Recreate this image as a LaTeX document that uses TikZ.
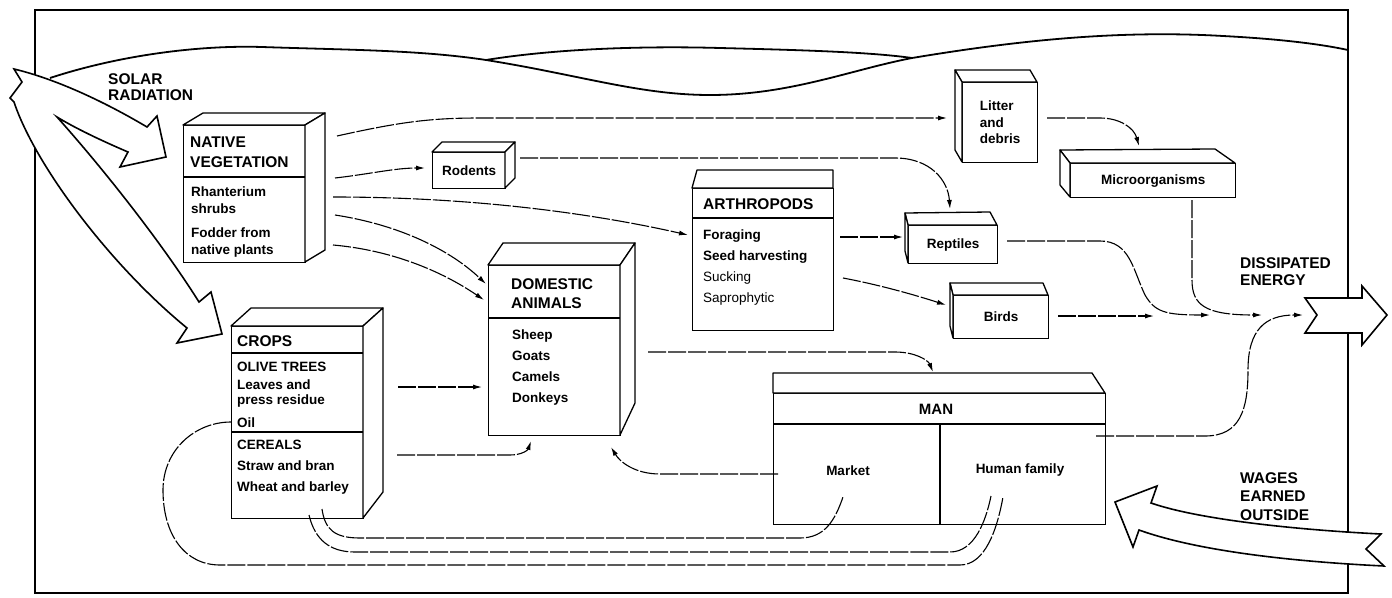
\documentclass[tikz,border=0pt]{standalone}
\usepackage{fontspec}
\setmainfont{Liberation Sans}
\usetikzlibrary{arrows.meta}
\begin{document}
\begin{tikzpicture}[x=1pt,y=-1pt,
  frame/.style={line width=1.8pt},
  boxn/.style={draw,line width=1.3pt,inner sep=0pt,anchor=north west,fill=white},
  face/.style={draw,line width=1.3pt,line join=round,fill=white},
  sep/.style={line width=1.1pt},
  conn/.style={line width=1.1pt,dash pattern=on 18pt off 2pt,-{Latex[length=9pt,width=5pt]}},
  link/.style={line width=1.1pt,dash pattern=on 18pt off 2pt},
  head/.style={font=\fontsize{15.5}{19.5}\selectfont\bfseries,inner sep=0pt,anchor=north west,align=left},
  itm/.style={font=\fontsize{13.5}{16.5}\selectfont\bfseries,inner sep=0pt,anchor=north west,align=left},
  lab/.style={font=\fontsize{13.5}{16.5}\selectfont\bfseries},
  hollow/.style={draw,line width=1.6pt,fill=white,line join=miter,miter limit=20}
]
\useasboundingbox (0,0) rectangle (1392,597);

% frame and wavy lines
\draw[frame] (35,10) rectangle (1348,593);
\draw[frame] (50,78) .. controls (120,55) and (200,45) .. (262,47)
  .. controls (350,50) and (420,50) .. (486,60)
  .. controls (580,75) and (640,95) .. (710,95)
  .. controls (790,95) and (850,70) .. (912,58)
  .. controls (1020,40) and (1120,30) .. (1223,36)
  .. controls (1280,39) and (1320,44) .. (1348,50);
\draw[frame] (486,60) .. controls (560,48) and (650,46) .. (720,48)
  .. controls (800,50) and (870,52) .. (912,58);

% solar radiation arrow
\draw[hollow] (14,69) .. controls (60,80) and (110,105) .. (147,127) -- (157,116) -- (166,157)
  -- (120,167) -- (128,152) .. controls (100,140) and (75,128) .. (57,117)
  .. controls (100,165) and (160,240) .. (199,302) -- (211,292) -- (222,334) -- (177,343)
  -- (187,328) .. controls (110,265) and (35,165) .. (14,102) -- (10,98) -- (22,82) -- cycle;
\node[head,font=\fontsize{15.5}{16}\selectfont\bfseries] (solar) at (108,73) {SOLAR\\RADIATION};

% dissipated energy arrow
\draw[hollow] (1305,298) -- (1362,298) -- (1362,286) -- (1387,315) -- (1362,345) -- (1362,333)
  -- (1305,333) -- (1317,315) -- cycle;
\node[head,font=\fontsize{15.5}{17.5}\selectfont\bfseries] (diss) at (1240,257) {DISSIPATED\\ENERGY};

% wages arrow
\draw[hollow] (1115,502) -- (1157,486) -- (1151,503) .. controls (1200,520) and (1300,530) .. (1381,534)
  -- (1366,549) -- (1384,566) .. controls (1300,562) and (1200,552) .. (1139,530) -- (1133,547) -- cycle;
\node[head,font=\fontsize{15.5}{18.5}\selectfont\bfseries] (wages) at (1240,472) {WAGES\\EARNED\\OUTSIDE};

% native vegetation
\node[boxn,minimum width=122pt,minimum height=137pt] (nv) at (183,125) {};
\draw[face] (183,125) -- (203,113) -- (325,113) -- (305,125) -- cycle;
\draw[face] (305,125) -- (325,113) -- (325,250) -- (305,262) -- cycle;
\draw[sep] (183,177) -- (305,177);
\node[head] (nvh) at (190,137) {NATIVE\\VEGETATION};
\node[itm] (nvi) at (191,187) {Rhanterium\\shrubs\\[8pt]Fodder from\\native plants};

% crops
\node[boxn,minimum width=132pt,minimum height=192pt] (crops) at (231,326) {};
\draw[face] (231,326) -- (251,308) -- (383,308) -- (363,326) -- cycle;
\draw[face] (363,326) -- (383,308) -- (383,492) -- (363,518) -- cycle;
\draw[sep] (231,353) -- (363,353);
\draw[sep] (231,432) -- (363,432);
\node[head] (crh) at (237,335) {CROPS};
\node[itm] (cr1) at (237,362) {OLIVE TREES};
\node[itm,font=\fontsize{13.5}{15}\selectfont\bfseries] (cr2) at (237,380) {Leaves and\\press residue};
\node[itm] (cr3) at (237,418) {Oil};
\node[itm,font=\fontsize{13.5}{21}\selectfont\bfseries] (cr4) at (237,440) {CEREALS\\Straw and bran\\Wheat and barley};

% domestic animals
\node[boxn,minimum width=132pt,minimum height=170pt] (dom) at (488,265) {};
\draw[face] (488,265) -- (503,243) -- (635,243) -- (620,265) -- cycle;
\draw[face] (620,265) -- (635,243) -- (635,403) -- (620,435) -- cycle;
\draw[sep] (488,318) -- (620,318);
\node[head] (domh) at (511,278) {DOMESTIC\\ANIMALS};
\node[itm,font=\fontsize{13.5}{20.7}\selectfont\bfseries] (domi) at (512,330) {Sheep\\Goats\\Camels\\Donkeys};

% arthropods
\node[boxn,minimum width=141pt,minimum height=142pt] (arth) at (692,188) {};
\draw[face] (692,188) -- (697,170) -- (833,170) -- (833,188) -- cycle;
\draw[sep] (692,218) -- (833,218);
\node[head] (arh) at (703,198) {ARTHROPODS};
\node[itm,font=\fontsize{13.5}{20.7}\selectfont\bfseries] (ari) at (703,230) {Foraging\\Seed harvesting\\{\mdseries Sucking}\\{\mdseries Saprophytic}};

% small boxes
\node[boxn,lab,minimum width=73pt,minimum height=36pt] (rod) at (432,152) {Rodents};
\draw[face] (432,152) -- (442,142) -- (515,142) -- (505,152) -- cycle;
\draw[face] (505,152) -- (515,142) -- (515,178) -- (505,188) -- cycle;

\node[boxn,lab,align=left,minimum width=75pt,minimum height=80pt] (lit) at (962,82) {Litter\\and\\debris};
\draw[face] (962,82) -- (955,70) -- (1030,70) -- (1037,82) -- cycle;
\draw[face] (962,82) -- (955,70) -- (955,150) -- (962,162) -- cycle;

\node[boxn,lab,minimum width=165pt,minimum height=34pt] (mic) at (1070,163) {Microorganisms};
\draw[face] (1070,163) -- (1060,150) -- (1215,149) -- (1235,163) -- cycle;
\draw[face] (1070,163) -- (1060,150) -- (1060,185) -- (1070,197) -- cycle;

\node[boxn,lab,minimum width=89pt,minimum height=38pt] (rep) at (908,225) {Reptiles};
\draw[face] (908,225) -- (905,213) -- (990,212) -- (997,225) -- cycle;
\draw[face] (908,225) -- (905,213) -- (905,251) -- (908,263) -- cycle;

\node[boxn,lab,minimum width=95pt,minimum height=43pt] (bird) at (953,295) {Birds};
\draw[face] (953,295) -- (950,283) -- (1043,283) -- (1048,295) -- cycle;
\draw[face] (953,295) -- (950,283) -- (950,326) -- (953,338) -- cycle;

% man
\node[boxn,minimum width=332pt,minimum height=131pt] (man) at (773,393) {};
\draw[face] (773,393) -- (773,373) -- (1092,373) -- (1105,393) -- cycle;
\draw[sep] (773,424) -- (1105,424);
\draw[sep] (940,424) -- (940,524);
\node[lab,font=\fontsize{15}{18}\selectfont\bfseries] (mant) at (936,409) {MAN};
\node[lab] (mkt) at (848,471) {Market};
\node[lab] (fam) at (1020,470) {Human family};

% connector end points
\coordinate (nvA) at (337,136);  \coordinate (litW) at (947,118);
\coordinate (nvB) at (335,178);  \coordinate (rodW) at (425,168);
\coordinate (rodE) at (520,158); \coordinate (repN) at (950,209);
\coordinate (nvC) at (333,197);  \coordinate (arthW) at (688,235);
\coordinate (nvD) at (335,215);  \coordinate (domW1) at (486,284);
\coordinate (nvE) at (333,245);  \coordinate (domW2) at (484,300);
\coordinate (litE) at (1047,118); \coordinate (micN) at (1139,146);
\coordinate (arthE1) at (840,237); \coordinate (repW) at (903,237);
\coordinate (arthE2) at (843,278); \coordinate (birdW) at (946,305);
\coordinate (repE) at (1007,241); \coordinate (d1) at (1210,315);
\coordinate (birdE) at (1058,316); \coordinate (d0) at (1154,316);
\coordinate (micS) at (1192,200); \coordinate (d2) at (1262,315);
\coordinate (manE) at (1096,436); \coordinate (d3) at (1303,315);
\coordinate (domE) at (648,352); \coordinate (manN) at (933,372);
\coordinate (crE1) at (398,387); \coordinate (domW3) at (482,387);
\coordinate (crE2) at (397,455); \coordinate (domS1) at (531,441);
\coordinate (mktW) at (778,474); \coordinate (domS2) at (611,447);
\coordinate (crS1) at (322,509); \coordinate (mktS) at (843,497);
\coordinate (crS2) at (309,515); \coordinate (famS1) at (991,496);
\coordinate (oil) at (231,422);  \coordinate (famS2) at (1003,497);

% connectors
\draw[conn] (nvA) .. controls (400,122) and (430,118) .. (480,118) -- (litW);
\draw[conn] (nvB) .. controls (370,174) and (395,168) .. (rodW);
\draw[conn] (rodE) -- (895,158) .. controls (930,158) and (948,180) .. (repN);
\draw[conn] (nvC) .. controls (480,197) and (600,215) .. (arthW);
\draw[conn] (nvD) .. controls (400,225) and (450,250) .. (domW1);
\draw[conn] (nvE) .. controls (390,250) and (440,270) .. (domW2);
\draw[conn] (litE) -- (1100,118) .. controls (1120,118) and (1134,128) .. (micN);
\draw[conn] (arthE1) -- (repW);
\draw[conn] (arthE2) .. controls (880,285) and (915,295) .. (birdW);
\draw[conn] (repE) -- (1100,241) .. controls (1130,241) and (1133,270) .. (1145,295)
  .. controls (1155,312) and (1165,315) .. (d1);
\draw[conn] (birdE) -- (d0);
\draw[conn] (micS) -- (1192,280) .. controls (1192,305) and (1205,315) .. (d2);
\draw[conn] (manE) -- (1205,436) .. controls (1240,436) and (1248,410) .. (1248,370)
  .. controls (1248,330) and (1265,315) .. (d3);
\draw[conn] (domE) -- (895,352) .. controls (915,352) and (928,360) .. (manN);
\draw[conn] (crE1) -- (domW3);
\draw[conn] (crE2) -- (510,455) .. controls (522,455) and (528,450) .. (domS1);
\draw[conn] (mktW) -- (660,474) .. controls (635,474) and (620,462) .. (domS2);
\draw[link] (crS1) .. controls (325,530) and (335,538) .. (360,538) -- (800,538)
  .. controls (825,538) and (835,520) .. (mktS);
\draw[link] (crS2) .. controls (315,540) and (330,552) .. (355,552) -- (950,552)
  .. controls (975,552) and (986,520) .. (famS1);
\draw[link] (oil) .. controls (195,422) and (163,450) .. (163,490)
  .. controls (163,535) and (185,565) .. (220,565) -- (960,565)
  .. controls (985,565) and (997,530) .. (famS2);
\end{tikzpicture}
\end{document}
